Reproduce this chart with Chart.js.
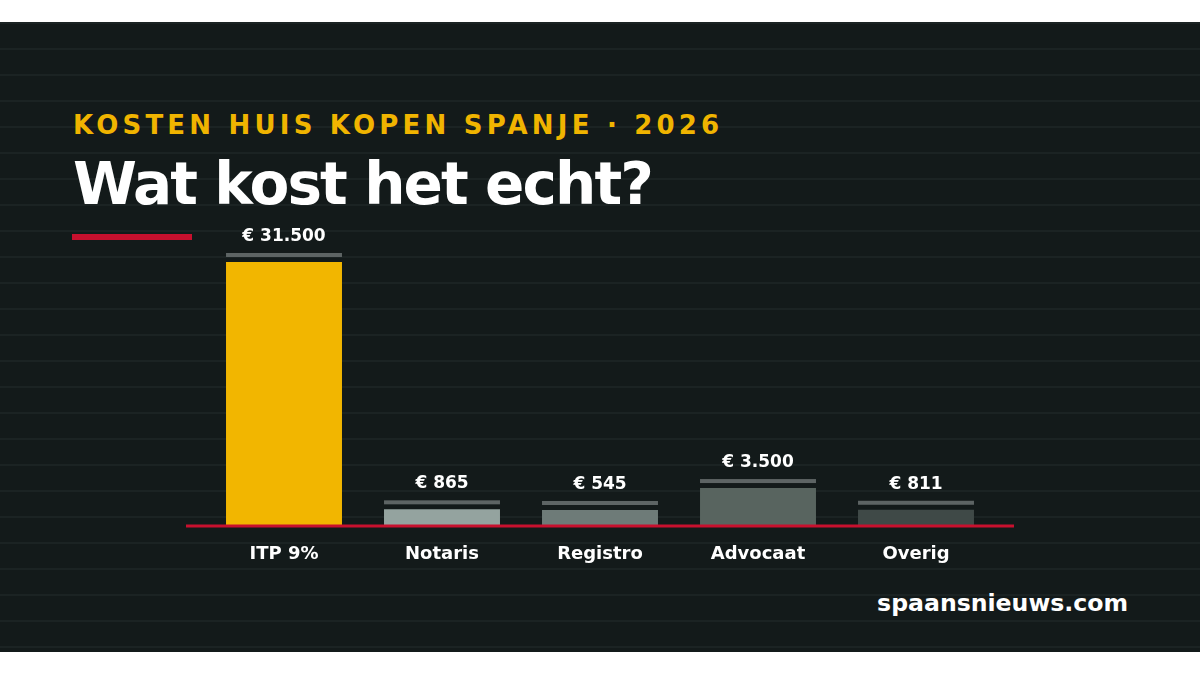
<!DOCTYPE html>
<html lang="nl">
<head>
<meta charset="utf-8">
<title>Kosten huis kopen Spanje 2026</title>
<script src="https://cdn.jsdelivr.net/npm/chart.js@4.4.1/dist/chart.umd.min.js"></script>
<style>
  html, body { margin: 0; padding: 0; background: #ffffff; overflow: hidden; }
  #band {
    position: absolute; left: 0; top: 22px; width: 1200px; height: 630px;
    background-color: #131a1a;
    background-image: repeating-linear-gradient(180deg, #1b2323 0px, #1b2323 2px, transparent 2px, transparent 26px);
  }
  .txt { position: absolute; font-family: "DejaVu Sans", sans-serif; font-weight: bold; line-height: 1; white-space: nowrap; margin: 0; }
  #kicker { left: 73px; top: 112px; font-size: 26px; letter-spacing: 4.2px; color: #f0b400; }
  #title { left: 73px; top: 155px; font-size: 58px; letter-spacing: -1.9px; color: #ffffff; }
  #accent { position: absolute; left: 72px; top: 234px; width: 120px; height: 6px; background: #c8102e; }
  #source { right: 72px; top: 592px; font-size: 23.6px; color: #ffffff; }
  #wrap { position: absolute; left: 0; top: 0; width: 1200px; height: 675px; }
</style>
</head>
<body>
<div id="band"></div>
<div class="txt" id="kicker">KOSTEN HUIS KOPEN SPANJE · 2026</div>
<h1 class="txt" id="title">Wat kost het echt?</h1>
<div id="accent"></div>
<div class="txt" id="source">spaansnieuws.com</div>
<div id="wrap"><canvas id="kosten"></canvas></div>

<script>
'use strict'

// posten en bedragen (euro)
const categories = ['ITP 9%', 'Notaris', 'Registro', 'Advocaat', 'Overig'];
const costs = [31500, 865, 545, 3500, 811];

const barColors = ['#f2b600', '#94a39f', '#6e7b78', '#58645f', '#3f4947'];
const capColor = '#5d6464';
const redLine = '#c8102e';
const axisFloor = -1200; // bars start below zero so small posts stay visible

function euro(v) {
  return '€ ' + String(v).replace(/\B(?=(\d{3})+(?!\d))/g, '.');
}

// grey cap above each bar, amount above the cap, red baseline
const decorations = {
  id: 'decorations',
  afterDatasetsDraw(chart) {
    const ctx = chart.ctx;
    const area = chart.chartArea;
    const meta = chart.getDatasetMeta(0);
    ctx.save();
    meta.data.forEach((bar, i) => {
      const w = bar.width;
      ctx.fillStyle = capColor;
      ctx.fillRect(bar.x - w / 2, bar.y - 9, w, 4);
      ctx.fillStyle = '#ffffff';
      ctx.font = 'bold 17px "DejaVu Sans"';
      ctx.textAlign = 'center';
      ctx.textBaseline = 'alphabetic';
      ctx.fillText(euro(costs[i]), bar.x, bar.y - 21);
    });
    const y0 = chart.scales.y.getPixelForValue(axisFloor);
    ctx.fillStyle = redLine;
    ctx.fillRect(area.left - 19, y0 - 1.5, area.right - area.left + 38, 3);
    ctx.restore();
  }
};

new Chart(document.getElementById('kosten'), {
  type: 'bar',
  data: {
    labels: categories,
    datasets: [{
      label: 'Kosten',
      data: costs,
      base: axisFloor,
      minBarLength: 16,
      backgroundColor: barColors,
      borderWidth: 0,
      categoryPercentage: 1,
      barPercentage: 0.734
    }]
  },
  options: {
    responsive: true,
    maintainAspectRatio: false,
    animation: false,
    layout: { padding: { left: 205, right: 205, top: 262, bottom: 99 } },
    plugins: {
      legend: { display: false },
      tooltip: { enabled: false },
      title: { display: false }
    },
    scales: {
      x: {
        grid: { display: false, drawTicks: false },
        border: { display: false },
        ticks: {
          color: '#ffffff',
          padding: 18,
          font: { family: '"DejaVu Sans"', size: 18, weight: 'bold' }
        },
        afterFit(scale) { scale.height = 50; }
      },
      y: {
        display: false,
        min: axisFloor,
        max: 31500
      }
    }
  },
  plugins: [decorations]
});
</script>
</body>
</html>
